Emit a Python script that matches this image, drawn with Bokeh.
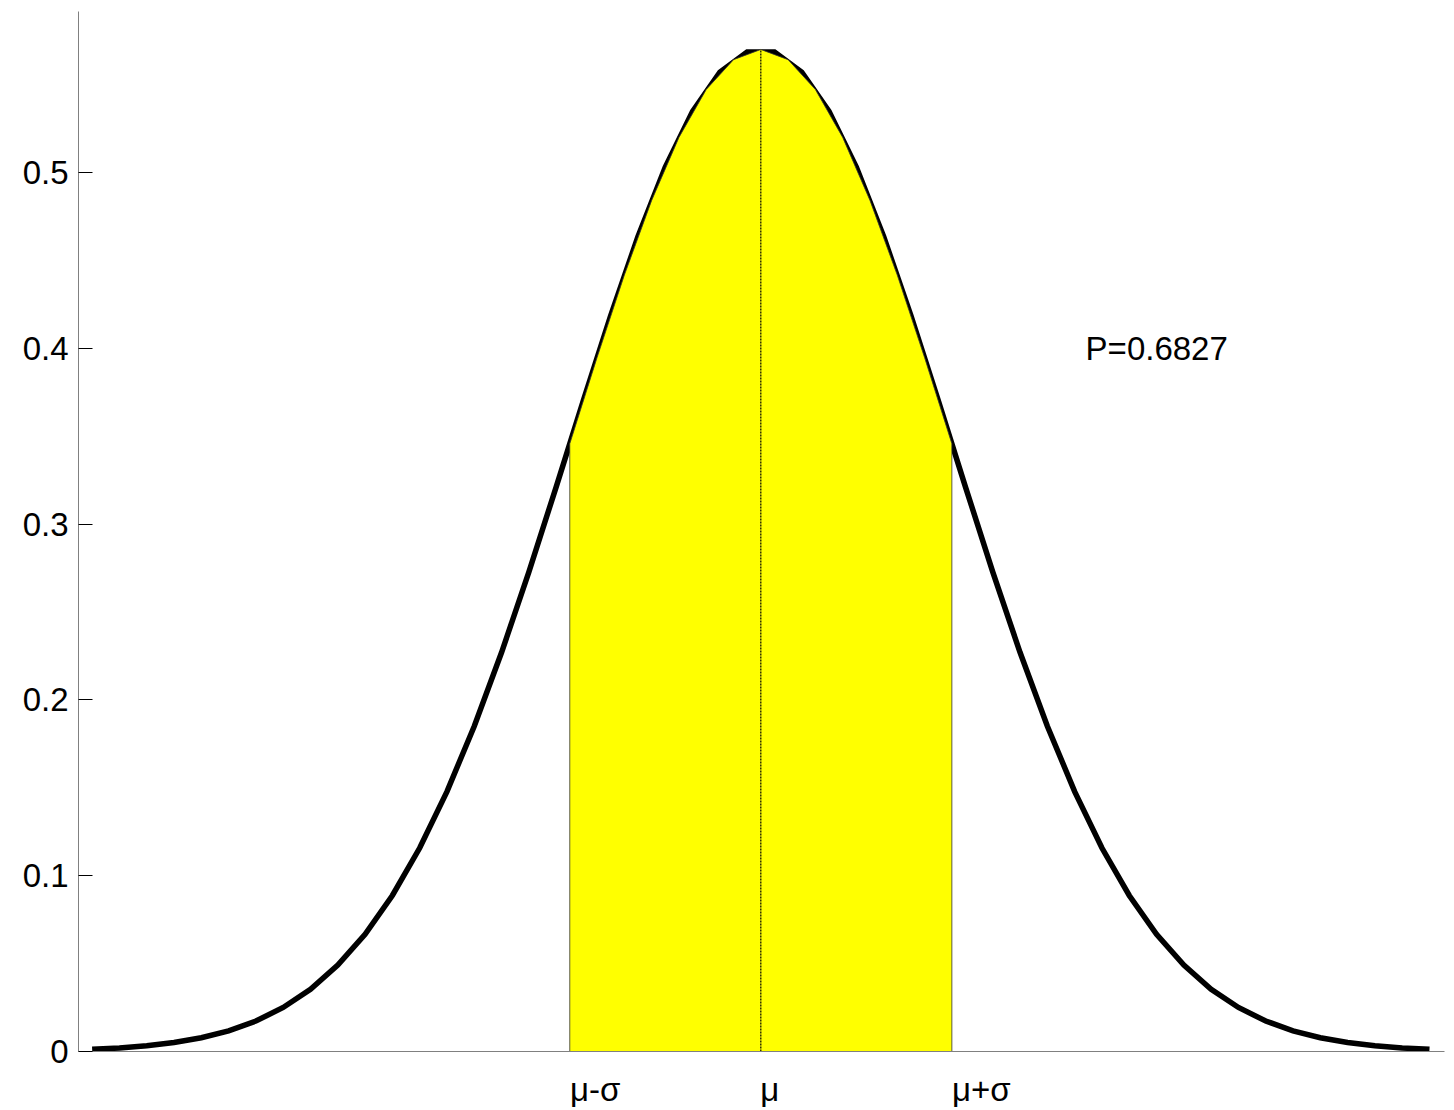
from bokeh.plotting import figure
from bokeh.models import Range1d, FixedTicker, Label, LinearAxis
from bokeh.embed import file_html
from bokeh.resources import INLINE

# --- data ---
curve_x = [-2.45, -2.35, -2.25, -2.15, -2.05, -1.95, -1.85, -1.75, -1.65, -1.55,
           -1.45, -1.35, -1.25, -1.15, -1.05, -0.95, -0.85, -0.75, -0.65, -0.55,
           -0.45, -0.35, -0.25, -0.15, -0.05, 0.05, 0.15, 0.25, 0.35, 0.45,
           0.55, 0.65, 0.75, 0.85, 0.95, 1.05, 1.15, 1.25, 1.35, 1.45,
           1.55, 1.65, 1.75, 1.85, 1.95, 2.05, 2.15, 2.25, 2.35, 2.45]
curve_y = [0.00125, 0.00204, 0.00325, 0.00510, 0.00782, 0.01177, 0.01734, 0.02504, 0.03543, 0.04911,
           0.06669, 0.08874, 0.11571, 0.14782, 0.18502, 0.22692, 0.27266, 0.32103, 0.37034, 0.41855,
           0.46351, 0.50294, 0.53470, 0.55698, 0.56846, 0.56846, 0.55698, 0.53470, 0.50294, 0.46351,
           0.41855, 0.37034, 0.32103, 0.27266, 0.22692, 0.18502, 0.14782, 0.11571, 0.08874, 0.06669,
           0.04911, 0.03543, 0.02504, 0.01734, 0.01177, 0.00782, 0.00510, 0.00325, 0.00204, 0.00125]

fill_x = [-0.7, -0.6, -0.5, -0.4, -0.3, -0.2, -0.1, 0.0, 0.1, 0.2, 0.3, 0.4, 0.5, 0.6, 0.7]
fill_y = [0.34567, 0.39472, 0.44159, 0.48406, 0.51990, 0.54712, 0.56412, 0.56991,
          0.56412, 0.54712, 0.51990, 0.48406, 0.44159, 0.39472, 0.34567]

mean_x = 0.0
peak_y = 0.56991

x_tick_pos = [-0.7, 0.0, 0.7]
x_tick_labels = ["μ-σ", "μ", "μ+σ"]
y_ticks = [0, 0.1, 0.2, 0.3, 0.4, 0.5]
y_tick_labels = ["0", "0.1", "0.2", "0.3", "0.4", "0.5"]
prob_text = "P=0.6827"

FONT = "Liberation Sans"

p = figure(width=1446, height=1110, output_backend="svg", toolbar_location=None,
           x_range=Range1d(-2.5, 2.505), y_range=Range1d(0, 0.5915),
           x_axis_location=None,
           min_border_left=78, min_border_right=2, min_border_top=11, min_border_bottom=58)
p.outline_line_color = None
p.grid.visible = False
p.background_fill_color = "white"
p.border_fill_color = "white"

# curve
p.line(curve_x, curve_y, line_color="black", line_width=5.5, line_cap="butt", line_join="miter")

# filled area (drawn over the curve)
poly_x = [fill_x[0]] + fill_x + [fill_x[-1]]
poly_y = [0] + fill_y + [0]
p.patch(poly_x, poly_y, fill_color="#ffff00", line_color="#333333", line_width=0.8)

# dotted mean line
p.line([mean_x, mean_x], [0, peak_y], line_color="black", line_width=1.2, line_dash="2 1")

# y axis
p.yaxis.ticker = FixedTicker(ticks=y_ticks)
p.yaxis.major_label_overrides = {t: l for t, l in zip(y_ticks, y_tick_labels)}
p.yaxis.major_tick_in = 14
p.yaxis.major_tick_out = 0
p.yaxis.minor_tick_in = 0
p.yaxis.minor_tick_out = 0
p.yaxis.axis_line_color = "#808080"
p.yaxis.major_tick_line_color = "black"
p.yaxis.major_label_text_font = FONT
p.yaxis.major_label_text_font_size = "33px"
p.yaxis.major_label_text_color = "black"
p.yaxis.major_label_standoff = 10

# x axis: labels appear left-aligned at their tick in the reference, so the
# (invisible) label anchors are shifted right by half of each label's width
label_shift = [0.093, 0.033, 0.108]
label_pos = [t + s for t, s in zip(x_tick_pos, label_shift)]
xax = LinearAxis(ticker=FixedTicker(ticks=label_pos),
                 major_label_overrides={lp: lab for lp, lab in zip(label_pos, x_tick_labels)})
xax.major_tick_in = 0
xax.major_tick_out = 0
xax.minor_tick_in = 0
xax.minor_tick_out = 0
xax.axis_line_color = "#808080"
xax.major_label_text_font = FONT
xax.major_label_text_font_size = "33px"
xax.major_label_text_color = "black"
xax.major_label_standoff = 19
p.add_layout(xax, "below")

p.add_layout(Label(x=1.19, y=0.4, text=prob_text, text_font=FONT, text_font_size="33px",
                   text_align="left", text_baseline="middle", text_color="black"))

open("out.html", "w").write(file_html(p, INLINE))
